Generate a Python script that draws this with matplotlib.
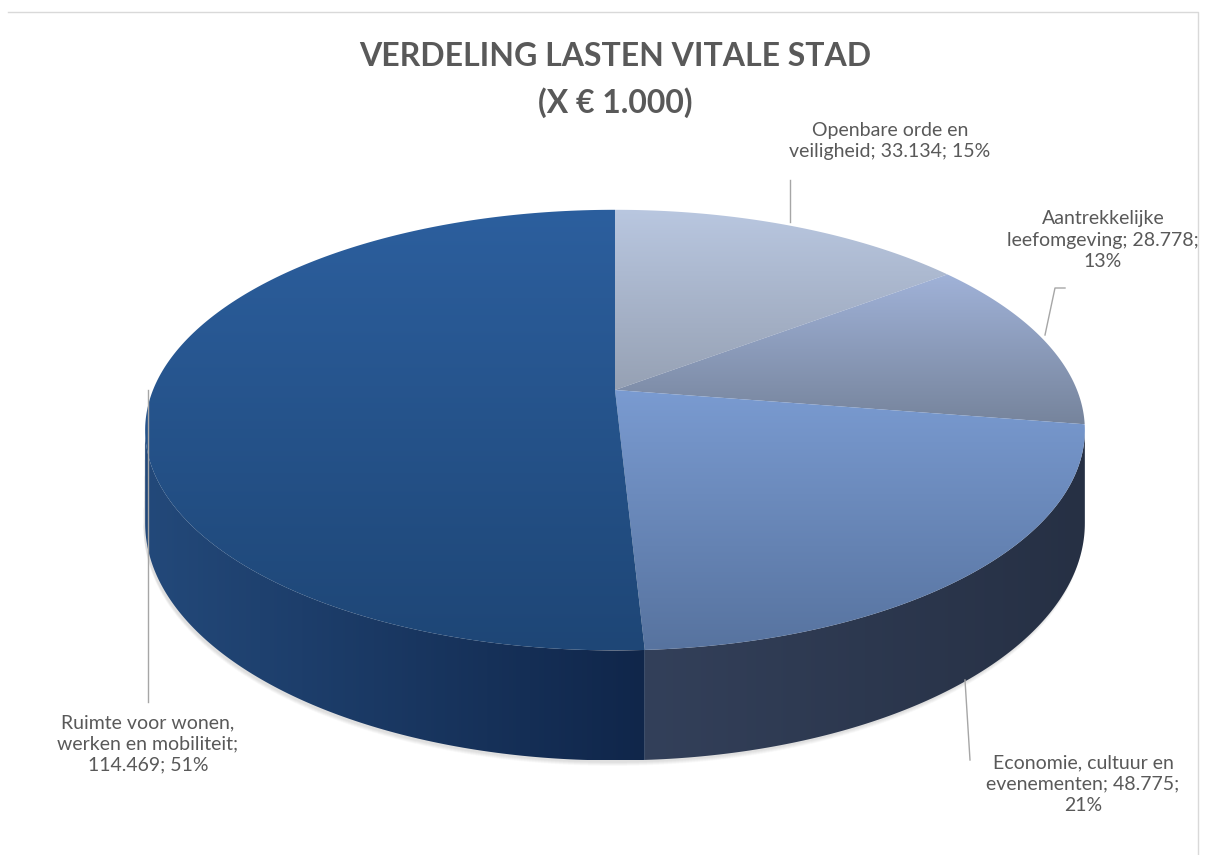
import numpy as np
import matplotlib.pyplot as plt
from matplotlib.patches import Polygon
from matplotlib.colors import to_rgb

# data
names = ['Openbare orde en\nveiligheid', 'Aantrekkelijke\nleefomgeving',
         'Economie, cultuur en\nevenementen', 'Ruimte voor wonen,\nwerken en mobiliteit']
values = [33134, 28778, 48775, 114469]
pcts = [15, 13, 21, 51]
label_fmt = ['{n}; {v}; {p}%', '{n}; {v};\n{p}%', '{n}; {v};\n{p}%', '{n};\n{v}; {p}%']

top_colors = [('#b9c7e0', '#96a1b4'), ('#a0b2d8', '#76849c'),
              ('#7a9bd1', '#57739f'), ('#2c5f9e', '#1e4676')]
wall_colors = [('#6d7a92', '#5c6880'), ('#5b6780', '#4b566c'),
               ('#33405a', '#263044'), ('#23497a', '#10264a')]

# projection of the pie (pixel coordinates)
cx, cy = 615, 390
A, B, k = 462, 213, 0.182
h0 = 90


def proj(theta, drop=0.0):
    u, v = np.sin(theta), -np.cos(theta)
    s = 1.0 / (1 - k * v)
    return cx + A * u * s, cy + B * v * s + drop * h0 * s


def grad_fill(ax, xy, c0, c1, horizontal=False, z=1):
    poly = Polygon(xy, closed=True, facecolor='none', edgecolor='none', zorder=z)
    ax.add_patch(poly)
    x0, y0 = xy.min(axis=0)
    x1, y1 = xy.max(axis=0)
    t = np.linspace(0, 1, 256)
    c0, c1 = np.array(to_rgb(c0)), np.array(to_rgb(c1))
    g = c0[None, :] * (1 - t[:, None]) + c1[None, :] * t[:, None]
    img = g[None, :, :] if horizontal else g[:, None, :]
    im = ax.imshow(img, extent=(x0, x1, y1, y0), aspect='auto', zorder=z,
                   interpolation='bilinear')
    im.set_clip_path(poly)


fig = plt.figure(figsize=(12.09, 8.55), dpi=100)
ax = fig.add_axes([0, 0, 1, 1])
ax.set_xlim(0, 1209)
ax.set_ylim(855, 0)
ax.axis('off')

# chart border
ax.plot([8, 1198, 1198], [12, 12, 855], color='#d9d9d9', lw=1)

fracs = np.array(values) / sum(values)
edges = np.concatenate([[0], np.cumsum(fracs)]) * 2 * np.pi
vis_l, vis_r = np.arccos(-k), 2 * np.pi - np.arccos(-k)

# soft shadow
tt = np.linspace(vis_l, vis_r, 200)
for i in range(8):
    bx, by = proj(tt, 1.0)
    tx, ty = proj(tt[::-1], 0.0)
    sh = np.column_stack([np.concatenate([bx - 1.5, tx]), np.concatenate([by + 2 + i * 0.5, ty])])
    ax.add_patch(Polygon(sh, closed=True, facecolor='#808080', alpha=0.03,
                         edgecolor='none', zorder=0.5))

# walls
for i in range(len(values)):
    a0, a1 = max(edges[i], vis_l), min(edges[i + 1], vis_r)
    if a1 <= a0:
        continue
    t = np.linspace(a0, a1, 120)
    tx, ty = proj(t, 0.0)
    bx, by = proj(t[::-1], 1.0)
    xy = np.column_stack([np.concatenate([tx, bx]), np.concatenate([ty, by])])
    grad_fill(ax, xy, wall_colors[i][0], wall_colors[i][1], horizontal=True, z=1)

# top faces
for i in range(len(values)):
    t = np.linspace(edges[i], edges[i + 1], 200)
    ex, ey = proj(t)
    xy = np.column_stack([np.concatenate([[cx], ex]), np.concatenate([[cy], ey])])
    grad_fill(ax, xy, top_colors[i][0], top_colors[i][1], z=2)

# title
ax.text(615, 57, 'VERDELING LASTEN VITALE STAD', ha='center', va='center',
        fontsize=23, fontweight='bold', color='#595959', family='Lato')
ax.text(615, 103, '(X € 1.000)', ha='center', va='center',
        fontsize=23, fontweight='bold', color='#595959', family='Lato')

# labels and leader lines
label_pos = [(890, 141), (1103, 240), (1083, 784), (148, 744)]
leaders = [([790, 790], [180, 222]),
           ([1065, 1055, 1045], [288, 288, 335]),
           ([965, 970], [680, 760]),
           ([148, 148], [390, 702])]
for i in range(len(values)):
    v = f'{values[i]:,}'.replace(',', '.')
    n = names[i]
    txt = label_fmt[i].format(n=n, v=v, p=pcts[i])
    ax.text(label_pos[i][0], label_pos[i][1], txt, ha='center', va='center',
            fontsize=14, color='#595959', family='Lato', linespacing=1.3, zorder=5)
    ax.plot(leaders[i][0], leaders[i][1], color='#a6a6a6', lw=1, zorder=4)

fig.savefig('out.png', dpi=100)
